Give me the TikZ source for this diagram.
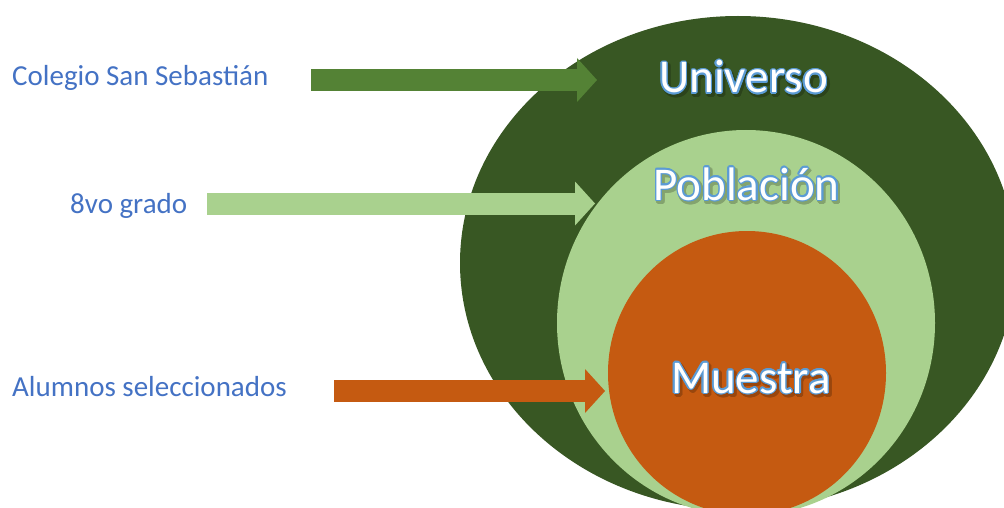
\documentclass[tikz,border=0pt]{standalone}
\usepackage{fontspec}
\setmainfont{Carlito}
\usepackage[copies]{contour}
\usetikzlibrary{arrows.meta,shapes.geometric}

% palette
\definecolor{universegreen}{HTML}{385723}
\definecolor{arrowgreen}{HTML}{548235}
\definecolor{lightgreen}{HTML}{A9D18E}
\definecolor{sampleorange}{HTML}{C55A11}
\definecolor{labelblue}{HTML}{4472C4}
\definecolor{outlineblue}{HTML}{5B9BD5}

\contournumber{16}

\tikzset{
  setshape/.style={ellipse, inner sep=0pt, draw=none},
  sidelabel/.style={anchor=base west, text=labelblue, inner sep=0pt,
    font=\fontsize{29}{34}\selectfont},
  bigword/.style={anchor=base, text=white, inner sep=0pt,
    font=\fontsize{47}{52}\selectfont},
  bigshadow/.style={anchor=base, text=black, inner sep=0pt,
    font=\fontsize{47}{52}\selectfont},
  blockarrow/.style={line width=22pt, line cap=butt,
    -{Triangle[length=20pt, width=44pt, line width=0pt 0]}},
}

\newcommand{\outlined}[1]{\contourlength{1.3pt}\contour{outlineblue}{#1}}
\newcommand{\shadowed}[1]{\contourlength{2pt}\contour{black}{#1}}

\begin{document}
\begin{tikzpicture}[x=1pt, y=-1pt]
  \useasboundingbox (0,0) rectangle (1004,508);
  \clip (0,0) rectangle (1004,508);

  % nested sets
  \node[setshape, fill=universegreen, minimum width=556pt, minimum height=494pt] (universo) at (738,263) {};
  \node[setshape, fill=lightgreen, minimum width=378pt, minimum height=386pt] (poblacion) at (746,323) {};
  \node[setshape, fill=sampleorange, minimum width=278pt, minimum height=284pt] (muestra) at (747,373) {};

  % soft drop shadows of the set titles
  \begin{scope}[transparency group, opacity=0.22]
    \node[bigshadow] (universoS) at (745.5,95.5) {\shadowed{Universo}};
    \node[bigshadow] (poblacionS) at (748.5,202.5) {\shadowed{Población}};
    \node[bigshadow] (muestraS) at (753,395.5) {\shadowed{Muestra}};
  \end{scope}

  % set titles
  \node[bigword] (universoT) at (743.5,93) {\outlined{Universo}};
  \node[bigword] (poblacionT) at (746.5,200) {\outlined{Población}};
  \node[bigword] (muestraT) at (751,393) {\outlined{Muestra}};

  % side labels
  \node[sidelabel] (colegio) at (12,86) {Colegio San Sebastián};
  \node[sidelabel] (grado) at (70,213) {8vo grado};
  \node[sidelabel] (alumnos) at (12,396) {Alumnos seleccionados};

  % arrow ends
  \coordinate (colegioTail) at (311,80);
  \coordinate (colegioTip) at (597,80);
  \coordinate (gradoTail) at (207,203.5);
  \coordinate (gradoTip) at (595,203.5);
  \coordinate (alumnosTail) at (334,391);
  \coordinate (alumnosTip) at (605,391);

  % arrows
  \draw[blockarrow, arrowgreen] (colegioTail) -- (colegioTip);
  \draw[blockarrow, lightgreen] (gradoTail) -- (gradoTip);
  \draw[blockarrow, sampleorange] (alumnosTail) -- (alumnosTip);
\end{tikzpicture}
\end{document}
